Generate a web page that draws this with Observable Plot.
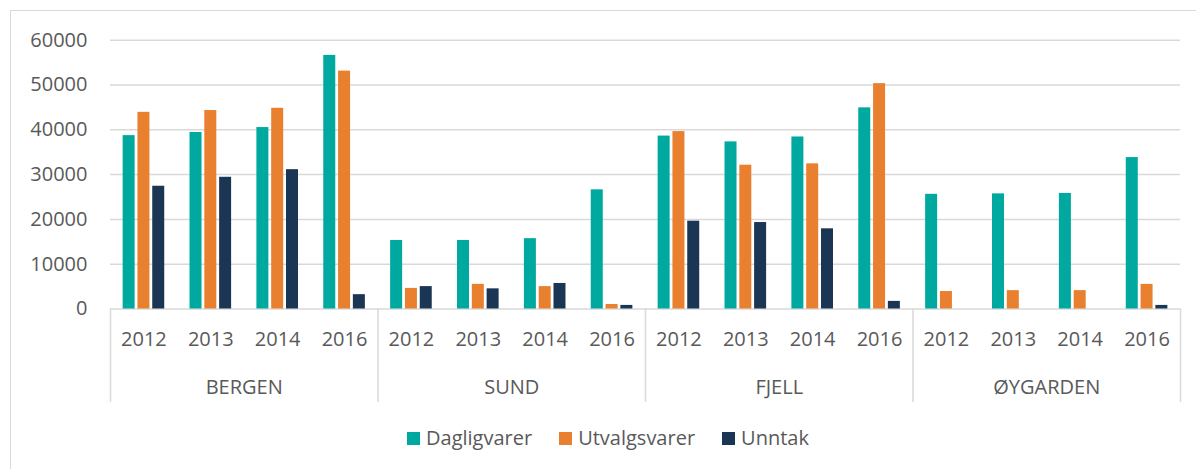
<!DOCTYPE html>
<html><head><meta charset="utf-8">
<script src="https://cdn.jsdelivr.net/npm/d3@7"></script>
<script src="https://cdn.jsdelivr.net/npm/@observablehq/plot@0.6"></script>
<style>
body{margin:0;background:#fff;font-family:"Open Sans",sans-serif;}
#wrap{position:relative;width:1196px;height:469px;overflow:hidden;background:#fff;}
#chart{position:absolute;left:0;top:0;}
#border{position:absolute;left:10px;top:10px;width:1300px;height:600px;border-top:1.5px solid #d9d9d9;border-left:1.5px solid #d9d9d9;pointer-events:none;}
#legend{position:absolute;top:427px;left:407px;display:flex;align-items:center;font-size:20px;line-height:22px;color:#595959;}
.item{display:flex;align-items:center;margin-right:27px;}
.sw{width:13px;height:13px;margin-right:6px;}
</style></head><body>
<div id="wrap"><div id="chart"></div><div id="legend"></div><div id="border"></div></div>
<script>
const districts = ["BERGEN", "SUND", "FJELL", "ØYGARDEN"];
const years = ["2012", "2013", "2014", "2016"];
const series = ["Dagligvarer", "Utvalgsvarer", "Unntak"];
const colors = ["#00A9A0", "#E8802F", "#1B3654"];
const dagligvarer  = [38700, 39400, 40500, 56600, 15300, 15300, 15700, 26600, 38600, 37300, 38400, 44900, 25600, 25700, 25800, 33800];
const utvalgsvarer = [43900, 44300, 44800, 53100, 4600, 5500, 5000, 1000, 39600, 32100, 32400, 50300, 3900, 4100, 4100, 5500];
const unntak       = [27400, 29400, 31100, 3200, 5000, 4500, 5700, 800, 19600, 19300, 17900, 1700, null, null, null, 800];
const yTicks = [0, 10000, 20000, 30000, 40000, 50000, 60000];

const values = [dagligvarer, utvalgsvarer, unntak];
const keys = [];
districts.forEach(d => years.forEach(y => keys.push(d + "|" + y)));
const rows = [];
keys.forEach((k, i) => series.forEach((s, si) => {
  const v = values[si][i];
  if (v != null) rows.push({key: k, series: s, value: v});
}));

const W = 1196, H = 410, ML = 110, MR = 16, MT = 39.7, MB = 101.5;
const bw = (W - ML - MR) / keys.length;
const barW = 12, step = 14.8;
const grey = "#d9d9d9";

const barMarks = series.map((s, si) => {
  const left = bw / 2 - barW / 2 + (si - 1) * step;
  return Plot.barY(rows.filter(r => r.series === s), {
    x: "key", y: "value", fill: colors[si],
    insetLeft: left, insetRight: bw - left - barW
  });
});

const chart = Plot.plot({
  width: W, height: H,
  marginLeft: ML, marginRight: MR, marginTop: MT, marginBottom: MB,
  style: {fontFamily: "'Open Sans', sans-serif", fontSize: "20px", color: "#595959", background: "transparent", overflow: "visible"},
  x: {domain: keys, padding: 0, round: false, label: null},
  y: {domain: [0, 60000], label: null},
  marks: [
    Plot.gridY(yTicks, {stroke: grey, strokeOpacity: 1, strokeWidth: 1.5}),
    Plot.axisY(yTicks, {tickSize: 0, tickPadding: 23, tickFormat: d3.format("d"), fontSize: 20, fill: "#595959", label: null}),
    ...barMarks,
    Plot.axisX({tickSize: 0, tickPadding: 23, tickFormat: k => k.split("|")[1], fontSize: 20, fill: "#595959", label: null}),
    Plot.axisX(keys.filter(k => k.endsWith("|2013")), {tickSize: 0, tickPadding: 71, dx: bw / 2, tickFormat: k => k.split("|")[0], fontSize: 20, fill: "#595959", label: null}),
    Plot.axisX(keys.filter(k => k.endsWith("|2012")), {tickSize: 93.5, dx: -bw / 2, tickFormat: () => "", stroke: grey, strokeOpacity: 1, strokeWidth: 1.5, label: null}),
    Plot.axisX([keys[keys.length - 1]], {tickSize: 93.5, dx: bw / 2, tickFormat: () => "", stroke: grey, strokeOpacity: 1, strokeWidth: 1.5, label: null})
  ]
});
document.getElementById("chart").appendChild(chart);

const legend = document.getElementById("legend");
series.forEach((s, i) => {
  const item = document.createElement("div");
  item.className = "item";
  const sw = document.createElement("div");
  sw.className = "sw";
  sw.style.background = colors[i];
  const t = document.createElement("span");
  t.textContent = s;
  item.appendChild(sw); item.appendChild(t);
  legend.appendChild(item);
});
</script>
</body></html>
